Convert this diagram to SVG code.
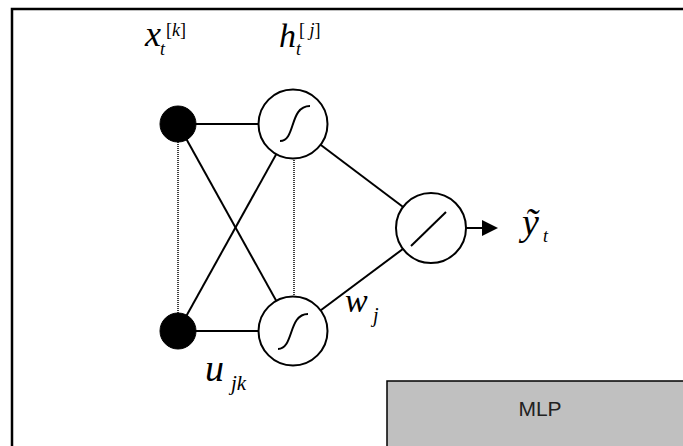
<svg xmlns="http://www.w3.org/2000/svg" width="683" height="446" viewBox="0 0 683 446">
<style>
.e{stroke:#000;stroke-width:2;fill:none}
.d{stroke:#000;stroke-width:1.5;stroke-dasharray:1,1;fill:none}
.n{stroke:#000;stroke-width:2;fill:#fff}
.in{fill:#000;stroke:#000;stroke-width:1}
.m{font-family:"Liberation Serif",serif;font-style:italic;fill:#000}
.s{font-family:"Liberation Serif",serif;fill:#000}
</style>
<rect x="0" y="0" width="683" height="446" fill="#fff"/>
<g id="frame">
<path d="M12,446 V9 H683" stroke="#000" stroke-width="2.5" fill="none"/>
</g>
<g id="connectors">
<line class="e" x1="178" y1="124" x2="293" y2="124"/>
<line class="e" x1="178" y1="331" x2="293" y2="331"/>
<line class="e" x1="178" y1="124" x2="293" y2="331"/>
<line class="e" x1="178" y1="331" x2="293" y2="124"/>
<line class="e" x1="293" y1="124" x2="431" y2="228"/>
<line class="e" x1="293" y1="331" x2="431" y2="228"/>
<line class="d" x1="178" y1="140" x2="178" y2="315"/>
<line class="d" x1="294" y1="158" x2="294" y2="297"/>
<line class="e" x1="466" y1="228" x2="484" y2="228"/>
<polygon points="482,220 498,228 482,236" fill="#000"/>
</g>
<g id="x1">
<circle class="in" cx="178" cy="124" r="18"/>
</g>
<g id="x2">
<circle class="in" cx="178" cy="331" r="18"/>
</g>
<g id="h1">
<circle class="n" cx="293" cy="124" r="34.5"/>
<path class="e" d="M280,141 C296,141 289,106 310,106"/>
</g>
<g id="h2">
<circle class="n" cx="293" cy="331" r="34.5"/>
<path class="e" d="M278,349 C294,349 288,314 308,314"/>
</g>
<g id="out">
<circle class="n" cx="431" cy="228" r="35"/>
<line class="e" x1="411" y1="246" x2="446" y2="212"/>
</g>
<g id="labels">
<text class="m" x="145" y="46" font-size="36">x</text>
<text class="m" x="160" y="55" font-size="18">t</text>
<text class="s" x="166" y="36" font-size="18">[<tspan font-style="italic">k</tspan>]</text>
<text class="m" x="279" y="47" font-size="34">h</text>
<text class="m" x="296" y="55" font-size="18">t</text>
<text class="s" x="299" y="36" font-size="18">[<tspan font-style="italic"> j</tspan>]</text>
<text class="m" x="522" y="235" font-size="38">ỹ</text>
<text class="m" x="543" y="242" font-size="18">t</text>
<text class="m" x="345" y="312" font-size="34">w</text>
<text class="m" x="373" y="322" font-size="20">j</text>
<text class="m" x="205" y="381" font-size="38">u</text>
<text class="m" x="231" y="390" font-size="21">jk</text>
</g>
<g id="mlp">
<rect x="387" y="381" width="300" height="70" fill="#c0c0c0" stroke="#000" stroke-width="1.5"/>
<text x="540" y="416" font-size="21" text-anchor="middle" font-family="Liberation Sans,Arial,sans-serif" fill="#222">MLP</text>
</g>
</svg>
